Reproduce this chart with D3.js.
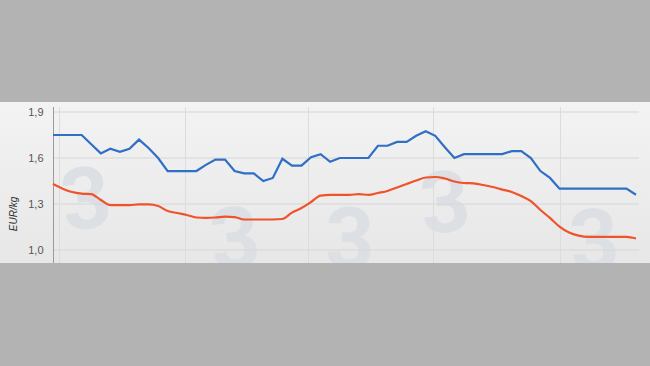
<!DOCTYPE html>
<html>
<head>
<meta charset="utf-8">
<script src="https://cdn.jsdelivr.net/npm/d3@7"></script>
<style>
  body { margin: 0; background: #b3b3b3; }
  svg { display: block; }
</style>
</head>
<body>
<div id="graph"></div>
<script>
// weekly prices, EUR/kg
const blueValues = [1.75,1.75,1.75,1.75,1.69,1.63,1.66,1.64,1.66,1.72,1.665,1.60,1.515,1.515,1.515,1.515,
  1.555,1.59,1.59,1.515,1.50,1.50,1.45,1.47,1.595,1.55,1.55,1.605,1.625,1.575,1.60,1.60,1.60,1.60,
  1.68,1.68,1.705,1.705,1.745,1.775,1.745,1.67,1.60,1.625,1.625,1.625,1.625,1.625,1.645,1.645,1.60,
  1.515,1.47,1.40,1.40,1.40,1.40,1.40,1.40,1.40,1.40,1.36];
const orangeValues = [1.43,1.40,1.378,1.368,1.365,1.326,1.293,1.293,1.293,1.297,1.297,1.287,1.254,1.241,
  1.228,1.212,1.209,1.212,1.218,1.215,1.199,1.199,1.199,1.199,1.202,1.244,1.274,1.313,1.355,1.359,1.359,
  1.359,1.365,1.359,1.372,1.385,1.408,1.43,1.453,1.473,1.476,1.466,1.447,1.437,1.434,1.424,1.411,1.394,
  1.378,1.352,1.319,1.261,1.209,1.153,1.114,1.094,1.085,1.085,1.085,1.085,1.085,1.075];
const yTicks = [1.0, 1.3, 1.6, 1.9];
const xGridWeeks = [0.6, 13.8, 26.7, 39.8, 53.0];

const width = 650, height = 366;
const band = {top: 102, bottom: 263};
const margins = {left: 53, right: 14};

var svg = d3.select('#graph').append('svg')
  .attr('width', width)
  .attr('height', height);

// light panel behind the chart
var defs = svg.append('defs');
var grad = defs.append('linearGradient').attr('id', 'panel').attr('x1', 0).attr('y1', 0).attr('x2', 0).attr('y2', 1);
grad.append('stop').attr('offset', '0%').attr('stop-color', '#f3f3f3');
grad.append('stop').attr('offset', '100%').attr('stop-color', '#e7e7e7');
svg.append('rect')
  .attr('x', 0).attr('y', band.top)
  .attr('width', width).attr('height', band.bottom - band.top)
  .attr('fill', 'url(#panel)');

var clip = defs.append('clipPath').attr('id', 'bandclip');
clip.append('rect').attr('x', 0).attr('y', band.top).attr('width', width).attr('height', band.bottom - band.top);

const x = d3.scaleLinear()
  .domain([0, blueValues.length - 1])
  .range([margins.left, width - margins.right]);

const y = d3.scaleLinear()
  .domain([1.0, 1.9])
  .range([250, 112]);

var g = svg.append('g').attr('clip-path', 'url(#bandclip)');

// faint "3" watermarks
var marks = [[90, 228, -8], [238, 268, -6], [350, 268, 0], [448, 232, -6], [596, 270, -4]];
g.selectAll('.wm')
  .data(marks)
  .enter().append('text')
  .attr('class', 'wm')
  .attr('transform', d => 'translate(' + d[0] + ',' + d[1] + ') rotate(' + d[2] + ')')
  .attr('text-anchor', 'middle')
  .style('font-family', 'Roboto, Arial, sans-serif')
  .style('font-weight', '700')
  .style('font-size', '86px')
  .style('fill', '#dcdfe3')
  .text('3');

// horizontal grid
g.selectAll('.hgrid')
  .data(yTicks)
  .enter().append('line')
  .attr('x1', margins.left).attr('x2', 639)
  .attr('y1', d => y(d)).attr('y2', d => y(d))
  .style('stroke', '#d6d6d6')
  .style('stroke-width', 1);

// vertical grid
g.selectAll('.vgrid')
  .data(xGridWeeks)
  .enter().append('line')
  .attr('x1', d => Math.round(x(d)) + 0.5).attr('x2', d => Math.round(x(d)) + 0.5)
  .attr('y1', 107).attr('y2', band.bottom)
  .style('stroke', '#dcdcdc')
  .style('stroke-width', 1);

// y axis
var yAxis = svg.append('g')
  .attr('transform', 'translate(' + (margins.left + 0.5) + ',0)')
  .call(d3.axisLeft(y).tickValues(yTicks).tickSize(0).tickPadding(10)
    .tickFormat(d => d3.format('.1f')(d).replace('.', ',')));
yAxis.select('.domain').remove();
yAxis.selectAll('text')
  .style('font-family', 'Arial, "Liberation Sans", sans-serif')
  .style('font-size', '11px')
  .style('fill', '#555');
svg.append('line')
  .attr('x1', margins.left + 0.5).attr('x2', margins.left + 0.5)
  .attr('y1', 107).attr('y2', band.bottom)
  .style('stroke', '#9a9a9a');

svg.append('text')
  .attr('transform', 'translate(17,214) rotate(-90)')
  .attr('text-anchor', 'middle')
  .style('font-family', 'Arial, "Liberation Sans", sans-serif')
  .style('font-size', '10px')
  .style('font-style', 'italic')
  .style('fill', '#333')
  .text('EUR/kg');

// lines
var blueLine = d3.line()
  .x((d, i) => x(i))
  .y(d => y(d));
var orangeLine = d3.line()
  .x((d, i) => x(i))
  .y(d => y(d))
  .curve(d3.curveMonotoneX);

svg.append('path')
  .datum(orangeValues)
  .attr('d', orangeLine)
  .style('fill', 'none')
  .style('stroke', '#f0522a')
  .style('stroke-width', 2.2);

svg.append('path')
  .datum(blueValues)
  .attr('d', blueLine)
  .style('fill', 'none')
  .style('stroke', '#2f6fc6')
  .style('stroke-width', 2.2);
</script>
</body>
</html>
